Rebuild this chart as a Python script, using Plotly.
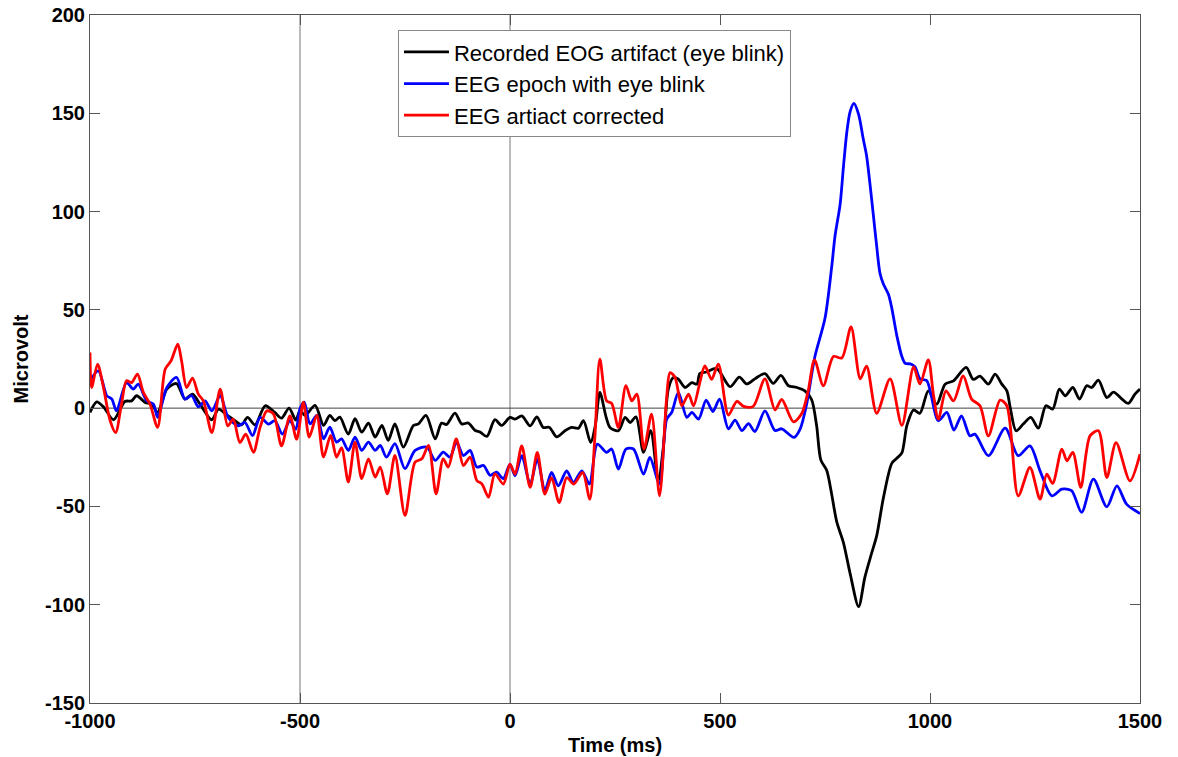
import plotly.graph_objects as go

# ---------------- data ----------------
t_eog = [-1000, -984, -968, -944, -917, -901, -889, -869, -853, -839, -817, -794, -774, -756, -738,
         -710, -694, -675, -655, -639, -625, -607, -583, -560, -544, -526, -510, -500, -488, -464,
         -444, -429, -417, -405, -385, -369, -353, -337, -321, -305, -290, -274, -254, -230, -218,
         -200, -178, -163, -151, -131, -115, -99, -83, -71, -55, -36, -20, 0, 12, 28, 48, 64, 79,
         94, 111, 131, 147, 163, 175, 192, 203, 214, 229, 238, 258, 274, 286, 300, 318, 335, 353,
         365, 377, 389, 401, 417, 433, 445, 452, 468, 492, 524, 546, 564, 583, 607, 627, 645, 663,
         683, 702, 718, 730, 740, 754, 766, 778, 794, 810, 830, 845, 861, 873, 889, 909, 921, 933,
         945, 961, 976, 996, 1016, 1036, 1056, 1086, 1103, 1119, 1139, 1155, 1171, 1183, 1191, 1205,
         1222, 1240, 1258, 1276, 1292, 1308, 1322, 1340, 1356, 1373, 1385, 1401, 1421, 1437, 1457,
         1472, 1488, 1500]
v_eog = [-2.2, 3.2, 0.7, -5.9, 3.4, 3.7, 6.3, 2.9, 2.0, -2.2, 9.7, 12.5, 4.6, 7.1, 2.0,
         -5.9, -0.5, -3.4, -6.4, -8.5, -4.7, -8.5, 1.2, -2.2, -5.1, 0.0, -6.1, -1.2, -3.7, 1.4,
         -8.8, -3.7, -6.3, -4.6, -13.2, -5.4, -12.2, -7.6, -14.7, -8.8, -16.4, -8.0, -19.8, -8.8, -8.0,
         -3.7, -15.6, -7.6, -8.3, -2.5, -8.0, -7.6, -11.4, -12.2, -14.4, -5.9, -8.8, -4.7, -5.6, -3.9, -9.0, -4.4, -9.8,
         -9.8, -14.6, -11.5, -9.8, -10.2, -6.4, -17.5, -9.0, 8.0, -4.7, -9.8, -11.5, -4.7, -7.3, -4.4, -22.5, -11.5, -37.0,
         -20.0, 9.7, 15.6, 14.7, 10.5, 13.0, 12.2, 17.6, 18.4, 20.2, 10.9, 15.8, 12.3, 14.9, 17.6, 12.6, 16.7, 11.4,
         10.5, 8.8, 4.4, -8.8, -26.3, -31.6, -43.9, -57.9, -68.5, -84.3, -101.0, -86.0, -73.8, -65.0, -45.7, -28.1, -25.5, -22.8,
         -8.8, -0.9, -2.6, 8.8, 2.0, 12.2, 13.9, 20.7, 14.6, 16.3, 12.2, 17.3, 12.2, 8.8, 0.3, -11.5,
         -8.1, -4.7, -10.2, 1.2, -0.5, 9.7, 6.3, 10.5, 4.6, 11.4, 10.5, 14.2, 5.4, 8.1, 4.6,
         2.4, 7.1, 9.7]

t_eeg = [-1000, -980, -960, -948, -937, -913, -897, -885, -865, -849, -839, -817, -794, -774, -758,
         -742, -726, -710, -690, -671, -647, -631, -613, -595, -575, -560, -542, -524, -510, -500,
         -490, -476, -460, -444, -429, -413, -401, -385, -369, -353, -337, -321, -309, -294, -274,
         -250, -226, -198, -178, -159, -143, -127, -111, -95, -79, -63, -47, -32, -16, 0, 12, 28, 48,
         65, 83, 99, 115, 135, 151, 171, 189, 208, 230, 242, 258, 276, 294, 318, 333, 356, 373, 385,
         401, 421, 433, 449, 467, 483, 499, 520, 536, 552, 568, 583, 607, 631, 647, 676, 691, 706,
         726, 750, 766, 774, 786, 794, 802, 810, 819, 830, 841, 849, 857, 865, 873, 881, 889, 901,
         909, 921, 933, 941, 953, 964, 976, 992, 1020, 1040, 1057, 1075, 1095, 1107, 1139, 1179, 1210,
         1238, 1262, 1290, 1314, 1337, 1361, 1389, 1421, 1445, 1468, 1500]
v_eeg = [14.0, 19.0, 6.3, 4.6, -1.4, 13.0, 9.7, 12.2, 3.7, 2.0, -4.7, 10.5, 15.6, 4.6, 6.3,
         0.7, 3.7, -1.4, 6.3, -4.7, -9.0, -7.3, -14.0, -4.7, -8.1, -6.4, -13.2, -6.4, -10.7, -0.3,
         3.0, -8.0, -3.7, -15.6, -9.7, -17.3, -15.6, -21.5, -14.7, -21.5, -17.3, -21.5, -19.0, -24.9, -18.1,
         -30.8, -21.5, -19.8, -26.6, -22.4, -24.9, -17.3, -24.1, -21.5, -30.0, -29.2, -34.2, -32.5, -35.9, -28.5, -34.4, -24.2, -38.6,
         -25.9, -42.0, -32.7, -39.5, -31.9, -37.8, -31.9, -38.6, -18.3, -22.5, -20.8, -31.0, -20.8, -20.8, -33.6, -25.1, -38.6, -5.6, -2.2,
         8.0, -4.7, -2.2, -5.6, 4.1, -1.7, 4.6, -10.5, -6.1, -11.4, -7.9, -11.9, -1.4, -11.4, -10.5, -14.9, -10.5, 1.8,
         26.3, 45.7, 72.0, 87.8, 103.7, 123.0, 140.5, 151.0, 155.0, 149.4, 137.0, 128.4, 114.2, 98.4, 82.5, 68.5, 63.2, 57.9,
         50.9, 36.9, 26.3, 22.8, 22.5, 21.1, 14.9, 14.0, -6.4, -2.2, -11.2, -3.9, -14.1, -13.2, -24.2, -10.2, -24.2,
         -19.2, -31.9, -44.6, -41.2, -42.0, -53.0, -36.1, -50.2, -39.5, -48.8, -53.6]

t_corr = [-1000, -996, -982, -968, -952, -939, -925, -913, -901, -887, -873, -857, -839, -821, -807,
          -791, -782, -770, -756, -742, -730, -710, -690, -672, -659, -643, -629, -611, -595, -579,
          -563, -544, -524, -508, -492, -478, -460, -444, -427, -413, -401, -385, -369, -353, -337,
          -321, -309, -292, -274, -250, -226, -210, -194, -176, -159, -147, -128, -111, -95, -79,
          -67, -51, -36, -16, 0, 12, 28, 48, 65, 83, 99, 117, 135, 152, 173, 190, 202, 214, 230,
          242, 258, 276, 290, 302, 319, 337, 356, 373, 381, 393, 409, 425, 437, 452, 464, 480, 496,
          520, 540, 556, 579, 607, 631, 647, 675, 695, 710, 725, 746, 770, 790, 812, 834, 849, 873,
          905, 933, 961, 976, 996, 1008, 1020, 1038, 1056, 1079, 1099, 1119, 1139, 1167, 1183, 1210,
          1238, 1262, 1278, 1292, 1314, 1326, 1340, 1359, 1381, 1401, 1421, 1443, 1476, 1500]
v_corr = [28.3, 10.5, 22.4, 10.5, -6.4, -12.4, 2.0, 13.9, 13.0, 17.3, 8.0, 2.0, -9.8, 19.8, 24.1,
          32.5, 24.1, 10.5, 15.3, 7.1, 3.7, -12.4, 9.7, -9.0, -5.6, -17.5, -13.2, -22.5, -9.8, -1.4,
          -3.0, -19.2, -3.9, -15.8, 3.0, -14.7, -3.7, -24.9, -13.9, -24.9, -20.2, -37.6, -17.3, -35.9, -25.8,
          -35.1, -30.0, -43.6, -24.1, -54.6, -27.5, -25.8, -19.0, -43.6, -25.8, -30.0, -15.6, -29.2, -24.9, -36.8,
          -38.5, -45.3, -33.4, -38.6, -28.5, -33.6, -19.2, -40.3, -22.5, -43.7, -35.3, -48.0, -35.3, -38.6, -32.7, -46.3, -14.9, 24.9, 3.7,
          2.4, -9.8, 11.4, 3.7, 7.1, -20.8, -3.1, -44.6, 5.4, 18.1, 15.6, 1.2, 7.1, 1.2, 13.0, 21.5, 14.7, 22.4,
          -3.5, 3.5, 0.9, 0.9, 14.9, -0.9, 4.4, -7.0, -2.6, 8.8, 24.6, 11.4, 26.3, 25.5, 41.3, 14.9, 21.4, -2.6,
          14.9, -8.8, 21.0, 12.3, 24.6, 7.1, -5.6, 8.8, 3.7, 16.4, 4.6, 1.2, -14.1, 4.1, 1.2, -44.6,
          -30.2, -46.3, -33.6, -38.3, -20.8, -26.8, -22.5, -40.3, -14.1, -11.5, -35.3, -17.5, -37.0, -23.4]

series_names = ["Recorded EOG artifact (eye blink)", "EEG epoch with eye blink", "EEG artiact corrected"]
series_colors = ["#000000", "#0000FF", "#FF0000"]
ref_lines_x = [-500, 0]
x_ticks = [-1000, -500, 0, 500, 1000, 1500]
y_ticks = [-150, -100, -50, 0, 50, 100, 150, 200]

FONT = "Liberation Sans, Arial, Helvetica, sans-serif"
TICKFONT = dict(family=FONT, size=20, color="black", weight="bold")
TITLEFONT = dict(family=FONT, size=20, color="black", weight="bold")

fig = go.Figure()

# reference lines (behind data)
for xv in ref_lines_x:
    fig.add_shape(type="line", xref="x", yref="paper", x0=xv, x1=xv, y0=0, y1=1,
                  line=dict(color="#777777", width=1), layer="below")
fig.add_shape(type="line", xref="paper", yref="y", x0=0, x1=1, y0=0, y1=0,
              line=dict(color="#444444", width=1), layer="below")

for tt, vv, name, col in zip([t_eog, t_eeg, t_corr], [v_eog, v_eeg, v_corr], series_names, series_colors):
    fig.add_trace(go.Scatter(x=tt, y=vv, mode="lines", name=name,
                             line=dict(color=col, width=2.8, shape="spline", smoothing=0.8)))

fig.update_layout(
    width=1178, height=757,
    margin=dict(l=90, r=38, t=15, b=54, autoexpand=False),
    paper_bgcolor="white", plot_bgcolor="white",
    font=dict(family=FONT, size=20, color="black"),
    showlegend=True,
    legend=dict(x=0.2933, y=0.978, xanchor="left", yanchor="top",
                bgcolor="white", bordercolor="#888888", borderwidth=1,
                font=dict(family=FONT, size=22, color="black"),
                itemwidth=45, tracegroupgap=0),
    xaxis=dict(range=[-1000, 1500], tickvals=x_ticks, ticktext=[str(v) for v in x_ticks],
               showgrid=False, zeroline=False, showline=True, linecolor="#555555", linewidth=1,
               mirror="ticks", ticks="inside", ticklen=10, tickcolor="#555555", automargin=False,
               tickfont=TICKFONT,
               title=dict(text="Time (ms)", font=TITLEFONT, standoff=6)),
    yaxis=dict(range=[-150, 200], tickvals=y_ticks, ticktext=[str(v) for v in y_ticks],
               showgrid=False, zeroline=False, showline=True, linecolor="#555555", linewidth=1,
               mirror="ticks", ticks="inside", ticklen=10, tickcolor="#555555", automargin=False,
               tickfont=TICKFONT,
               title=dict(text="Microvolt", font=TITLEFONT, standoff=10)),
)

fig.write_html("out.html")
